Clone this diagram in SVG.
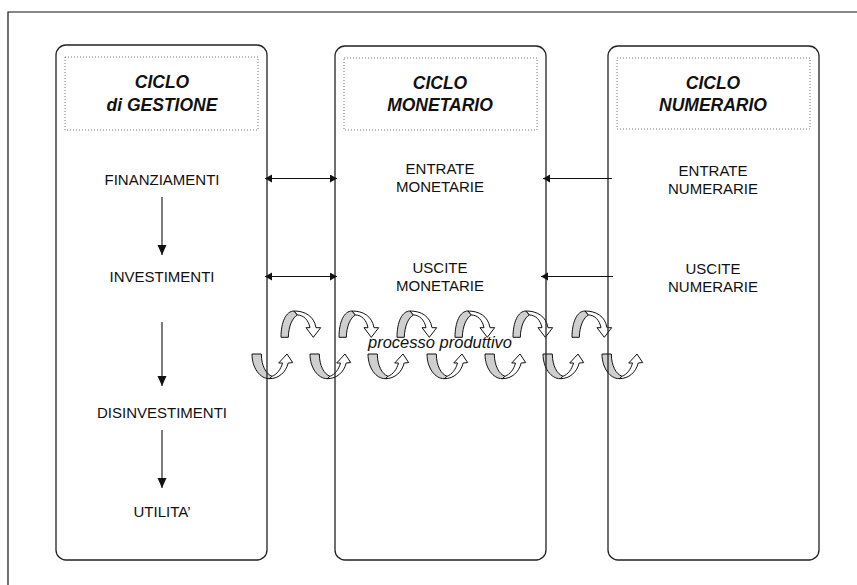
<svg xmlns="http://www.w3.org/2000/svg" width="857" height="585" viewBox="0 0 857 585">
  <style>
    .frame { fill: none; stroke: #111; stroke-width: 1.2; }
    .box { fill: none; stroke: #222; stroke-width: 1.3; }
    .title { fill: none; stroke: #777; stroke-width: 1; stroke-dasharray: 1 2; }
    .head { font-family: "Liberation Sans", Arial, sans-serif; font-size: 17.5px; font-weight: bold; font-style: italic; fill: #111; text-anchor: middle; }
    .lbl { font-family: "Liberation Sans", Arial, sans-serif; font-size: 15px; fill: #111; text-anchor: middle; }
    .proc { font-family: "Liberation Sans", Arial, sans-serif; font-size: 16.5px; font-style: italic; fill: #111; text-anchor: middle; }
    .conn { fill: none; stroke: #111; stroke-width: 1.1; }
    .back { fill: #cfcfcf; stroke: #111; stroke-width: 1; stroke-linejoin: round; }
    .front { fill: #fff; stroke: #111; stroke-width: 1; stroke-linejoin: round; }
  </style>
  <defs>
    <marker id="hd" markerUnits="userSpaceOnUse" markerWidth="9" markerHeight="9" refX="7" refY="4" orient="auto-start-reverse">
      <path d="M0,0 L7,4 L0,8 Z" fill="#111"/>
    </marker>
    <marker id="vd" markerUnits="userSpaceOnUse" markerWidth="11" markerHeight="10" refX="10" refY="4.5" orient="auto">
      <path d="M0,0 L10,4.5 L0,9 Z" fill="#111"/>
    </marker>
    <!-- arch-shaped turning arrow, pointing down on the right -->
    <g id="arch">
      <path class="back" d="M0,26.3 C0,11 5,0 13,0 L16.5,4 C11.5,6.5 7.6,15 7.3,26.3 Z"/>
      <path class="front" d="M13,0 C24,0 33,5 35,16.7 L39.7,16.7 L32.3,26.3 L25,16.7 L29,16.7 C27.5,9 22.5,4 16.5,4 Z"/>
    </g>
    <!-- cup-shaped turning arrow, pointing up on the right -->
    <g id="cup">
      <path class="back" d="M0,0 L9.3,0 C9.5,12 14,20 20,22.3 L17.3,24.7 C8,24.7 0,14 0,0 Z"/>
      <path class="front" d="M17.3,24.7 C27,24.7 34,18 36.2,9 L40.7,8.6 L35,0 L26.7,9 L30.5,9 C29,15 25,20.5 20,22.3 Z"/>
    </g>
  </defs>

  <rect x="0" y="0" width="857" height="585" fill="#fff"/>
  <path class="frame" d="M8,585 L8,12 L857,12"/>

  <!-- production process: chain of turning arrows -->
  <g id="processo">
    <use href="#arch" x="281" y="311"/>
    <use href="#arch" x="339" y="311"/>
    <use href="#arch" x="397" y="311"/>
    <use href="#arch" x="455" y="311"/>
    <use href="#arch" x="513" y="311"/>
    <use href="#arch" x="572" y="311"/>
    <use href="#cup" x="252" y="354"/>
    <use href="#cup" x="310" y="354"/>
    <use href="#cup" x="368" y="354"/>
    <use href="#cup" x="427" y="354"/>
    <use href="#cup" x="485" y="354"/>
    <use href="#cup" x="543" y="354"/>
    <use href="#cup" x="602" y="354"/>
    <text class="proc" x="440" y="348">processo produttivo</text>
  </g>

  <g id="ciclo-gestione">
    <rect class="box" x="56" y="45" width="211" height="515" rx="10"/>
    <rect class="title" x="65" y="57" width="193" height="73"/>
    <text class="head" x="162" y="88">CICLO</text>
    <text class="head" x="162" y="111">di GESTIONE</text>
    <text class="lbl" x="162" y="185">FINANZIAMENTI</text>
    <text class="lbl" x="162" y="282">INVESTIMENTI</text>
    <text class="lbl" x="162" y="418">DISINVESTIMENTI</text>
    <text class="lbl" x="162" y="517">UTILITA’</text>
  </g>

  <g id="ciclo-monetario">
    <rect class="box" x="335" y="46" width="211" height="514" rx="10"/>
    <rect class="title" x="344" y="58" width="193" height="72"/>
    <text class="head" x="440" y="89">CICLO</text>
    <text class="head" x="440" y="111">MONETARIO</text>
    <text class="lbl" x="440" y="174">ENTRATE</text>
    <text class="lbl" x="440" y="192">MONETARIE</text>
    <text class="lbl" x="440" y="273">USCITE</text>
    <text class="lbl" x="440" y="291">MONETARIE</text>
  </g>

  <g id="ciclo-numerario">
    <rect class="box" x="608" y="46" width="211" height="514" rx="10"/>
    <rect class="title" x="617" y="58" width="193" height="71"/>
    <text class="head" x="713" y="89">CICLO</text>
    <text class="head" x="713" y="111">NUMERARIO</text>
    <text class="lbl" x="713" y="176">ENTRATE</text>
    <text class="lbl" x="713" y="194">NUMERARIE</text>
    <text class="lbl" x="713" y="274">USCITE</text>
    <text class="lbl" x="713" y="292">NUMERARIE</text>
  </g>

  <g id="connettori">
    <line class="conn" x1="162" y1="197" x2="162" y2="255" marker-end="url(#vd)"/>
    <line class="conn" x1="162" y1="322" x2="162" y2="386" marker-end="url(#vd)"/>
    <line class="conn" x1="162" y1="430" x2="162" y2="488" marker-end="url(#vd)"/>
    <line class="conn" x1="265" y1="178.5" x2="337" y2="178.5" marker-start="url(#hd)" marker-end="url(#hd)"/>
    <line class="conn" x1="265" y1="276.5" x2="337" y2="276.5" marker-start="url(#hd)" marker-end="url(#hd)"/>
    <line class="conn" x1="612" y1="178.5" x2="543" y2="178.5" marker-end="url(#hd)"/>
    <line class="conn" x1="613" y1="276.5" x2="541" y2="276.5" marker-end="url(#hd)"/>
  </g>
</svg>
